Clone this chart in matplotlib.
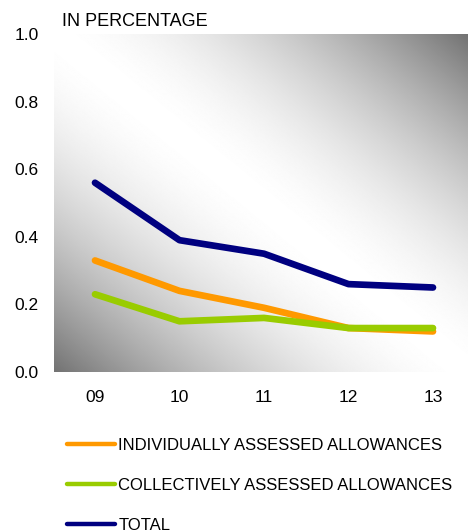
import matplotlib.pyplot as plt
import numpy as np

plt.rcParams['font.family'] = ['Liberation Sans', 'DejaVu Sans']

years = ["09", "10", "11", "12", "13"]
individually = [0.33, 0.24, 0.19, 0.13, 0.12]
collectively = [0.23, 0.15, 0.16, 0.13, 0.13]
total = [0.56, 0.39, 0.35, 0.26, 0.25]

labels = ["INDIVIDUALLY ASSESSED ALLOWANCES",
          "COLLECTIVELY ASSESSED ALLOWANCES",
          "TOTAL"]
colours = ["#ff9900", "#99cc00", "#000080"]

W, H = 468, 531
fig = plt.figure(figsize=(W / 100, H / 100), dpi=100)
ax = fig.add_axes([54 / W, 1 - 372 / H, (W - 54) / W, (372 - 34) / H])

x = np.arange(len(years))
xlim = (-0.485, 4.414)
ylim = (0, 1.0)

# diagonal grey-white-grey backdrop
u, v = np.meshgrid(np.linspace(0, 1, 400), np.linspace(0, 1, 400))
d = np.abs(u + v - 1)
shade = 1 - 0.55 * d ** 1.7
ax.imshow(shade, cmap='gray', vmin=0, vmax=1, origin='lower', aspect='auto',
          extent=(xlim[0], xlim[1], ylim[0], ylim[1]), zorder=0,
          interpolation='bilinear')

handles = []
for vals, c in zip([individually, collectively, total], colours):
    ln, = ax.plot(x, vals, color=c, lw=4.8, solid_capstyle='round',
                  solid_joinstyle='round', zorder=2)
    handles.append(ln)

ax.set_xlim(*xlim)
ax.set_ylim(*ylim)
ax.set_xticks(x)
ax.set_xticklabels(years)
ax.set_yticks(np.arange(0, 1.01, 0.2))
ax.set_yticklabels([f"{t:.1f}" for t in np.arange(0, 1.01, 0.2)])
ax.tick_params(length=0, labelsize=12.5)
ax.tick_params(axis='x', pad=13)
ax.tick_params(axis='y', pad=11)
for s in ax.spines.values():
    s.set_visible(False)

fig.text(62 / W, 1 - 21 / H, "IN PERCENTAGE", fontsize=13, va='center', ha='left')

leg = fig.legend(handles, labels, loc='upper left',
                 bbox_to_anchor=(67 / W, 1 - 438 / H), frameon=False,
                 fontsize=12, handlelength=2.9, handletextpad=0.18,
                 labelspacing=1.5, borderaxespad=0, borderpad=0)
for ln in leg.get_lines():
    ln.set_linewidth(3.2)

fig.savefig("out.png", dpi=100)
